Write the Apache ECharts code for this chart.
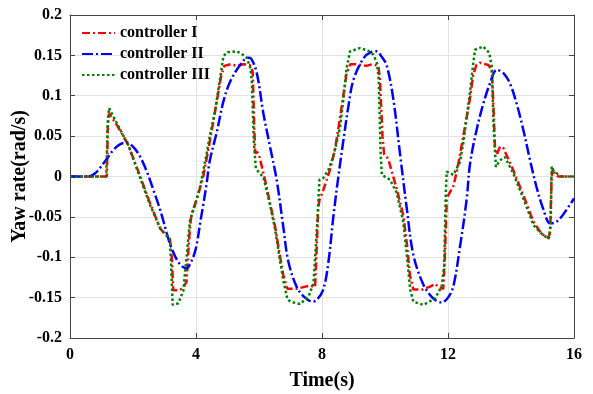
<!DOCTYPE html>
<html>
<head>
<meta charset="utf-8">
<script src="https://cdn.jsdelivr.net/npm/echarts@6/dist/echarts.min.js"></script>
<style>
html,body{margin:0;padding:0;background:#fff;}
#chart{width:593px;height:394px;}
</style>
</head>
<body>
<div id="chart"></div>
<script>
// ---- data ----
const seriesNames = ['controller I', 'controller II', 'controller III'];

const controllerI = [
 [0,0],[1.17,0],[1.2,0.06],[1.24,0.078],[1.3,0.076],[1.5,0.063],[1.85,0.039],[2.2,0.003],
 [2.54,-0.033],[2.86,-0.064],[3.0,-0.071],[3.17,-0.077],[3.23,-0.1],[3.28,-0.141],[3.45,-0.141],
 [3.6,-0.138],[3.7,-0.13],[3.76,-0.091],[3.81,-0.062],[3.86,-0.046],[4.02,-0.029],[4.23,0.0],
 [4.39,0.033],[4.55,0.068],[4.66,0.093],[4.8,0.125],[4.9,0.137],[5.1,0.139],[5.3,0.137],
 [5.5,0.139],[5.71,0.138],[5.8,0.13],[5.85,0.06],[5.88,0.029],[5.95,0.03],[6.0,0.027],
 [6.19,-0.004],[6.35,-0.033],[6.51,-0.062],[6.65,-0.095],[6.77,-0.122],[6.9,-0.139],[7.2,-0.139],
 [7.41,-0.137],[7.62,-0.135],[7.78,-0.137],[7.82,-0.1],[7.88,-0.04],[7.92,-0.029],[8.04,-0.017],
 [8.25,0.008],[8.41,0.033],[8.57,0.072],[8.78,0.128],[8.9,0.139],[9.1,0.139],[9.4,0.137],
 [9.6,0.139],[9.79,0.137],[9.84,0.12],[9.92,0.05],[9.97,0.028],[10.03,0.029],[10.1,0.022],
 [10.37,-0.015],[10.58,-0.048],[10.7,-0.085],[10.79,-0.122],[10.9,-0.14],[11.2,-0.14],
 [11.45,-0.136],[11.59,-0.133],[11.7,-0.137],[11.85,-0.139],[11.9,-0.1],[11.96,-0.03],
 [12.01,-0.023],[12.17,-0.012],[12.3,0.01],[12.49,0.051],[12.7,0.097],[12.8,0.126],[12.9,0.138],
 [13.02,0.141],[13.28,0.138],[13.39,0.132],[13.45,0.08],[13.49,0.037],[13.55,0.027],[13.65,0.037],
 [13.76,0.035],[14.07,0.008],[14.39,-0.023],[14.71,-0.056],[14.97,-0.071],[15.18,-0.076],
 [15.24,-0.07],[15.29,0.0],[15.33,0.01],[15.4,0.003],[15.5,0.0],[16,0]
];

const controllerII = [
 [0,0],[0.58,0],[0.8,0.004],[1.06,0.016],[1.38,0.033],[1.6,0.04],[1.8,0.042],[2.0,0.037],
 [2.22,0.025],[2.45,0.005],[2.65,-0.017],[2.86,-0.041],[3.07,-0.07],[3.17,-0.083],[3.39,-0.103],
 [3.55,-0.111],[3.7,-0.114],[3.85,-0.105],[3.92,-0.099],[4.02,-0.085],[4.13,-0.058],[4.23,-0.035],
 [4.34,-0.008],[4.44,0.02],[4.66,0.055],[4.87,0.093],[5.08,0.117],[5.4,0.138],[5.65,0.147],
 [5.75,0.146],[5.93,0.128],[6.14,0.078],[6.35,0.037],[6.56,-0.004],[6.77,-0.062],[6.93,-0.105],
 [7.2,-0.137],[7.46,-0.15],[7.7,-0.155],[7.83,-0.153],[8.04,-0.14],[8.2,-0.107],[8.36,-0.05],
 [8.52,0.0],[8.68,0.045],[8.85,0.09],[9.0,0.12],[9.31,0.146],[9.55,0.154],[9.73,0.155],
 [9.9,0.148],[10.05,0.138],[10.26,0.097],[10.48,0.027],[10.69,-0.039],[10.9,-0.097],
 [11.22,-0.134],[11.53,-0.151],[11.8,-0.156],[12.0,-0.15],[12.17,-0.136],[12.38,-0.087],
 [12.59,-0.029],[12.7,0.016],[12.91,0.058],[13.12,0.09],[13.33,0.115],[13.55,0.132],[13.76,0.128],
 [13.97,0.115],[14.18,0.09],[14.39,0.058],[14.6,0.021],[14.81,-0.013],[15.03,-0.041],
 [15.24,-0.058],[15.4,-0.057],[15.56,-0.052],[15.87,-0.035],[16,-0.027]
];

const controllerIII = [
 [0,0],[1.15,0],[1.2,0.07],[1.24,0.085],[1.3,0.08],[1.5,0.065],[1.85,0.039],[2.2,0.001],
 [2.54,-0.035],[2.86,-0.064],[3.0,-0.07],[3.17,-0.077],[3.2,-0.1],[3.26,-0.159],[3.44,-0.157],
 [3.6,-0.141],[3.68,-0.108],[3.81,-0.054],[3.92,-0.041],[4.13,-0.013],[4.34,0.029],[4.44,0.05],
 [4.6,0.08],[4.76,0.12],[4.87,0.149],[5.0,0.154],[5.29,0.155],[5.45,0.152],[5.61,0.147],
 [5.72,0.135],[5.77,0.12],[5.84,0.04],[5.9,0.01],[6.0,0.005],[6.14,-0.001],[6.35,-0.035],
 [6.51,-0.065],[6.65,-0.1],[6.77,-0.128],[6.9,-0.152],[7.0,-0.155],[7.3,-0.158],[7.57,-0.149],
 [7.73,-0.132],[7.83,-0.07],[7.92,-0.004],[8.04,-0.002],[8.2,0.008],[8.36,0.025],[8.57,0.06],
 [8.72,0.11],[8.78,0.134],[8.89,0.155],[9.2,0.159],[9.45,0.156],[9.63,0.151],[9.75,0.14],
 [9.8,0.12],[9.86,0.03],[9.9,0.002],[10.16,-0.004],[10.37,-0.02],[10.58,-0.056],[10.7,-0.1],
 [10.8,-0.14],[10.9,-0.155],[11.22,-0.159],[11.59,-0.151],[11.8,-0.136],[11.88,-0.11],
 [11.93,-0.02],[11.96,0.006],[12.17,0.002],[12.38,0.018],[12.49,0.043],[12.6,0.075],[12.7,0.105],
 [12.8,0.14],[12.86,0.157],[13.12,0.161],[13.31,0.153],[13.39,0.136],[13.45,0.06],[13.52,0.012],
 [13.65,0.02],[13.81,0.024],[14.07,0.004],[14.39,-0.027],[14.71,-0.06],[15.0,-0.072],
 [15.2,-0.077],[15.26,-0.06],[15.29,0.012],[15.33,0.008],[15.38,0.01],[15.45,0.004],[15.6,0.0],[16,0]
];

const xTickLabels = ['0', '4', '8', '12', '16'];
const yTickLabels = ['-0.2', '-0.15', '-0.1', '-0.05', '0', '0.05', '0.1', '0.15', '0.2'];

// ---- chart ----
const FONT = '"Liberation Serif", "Times New Roman", serif';
const chart = echarts.init(document.getElementById('chart'), null, {renderer: 'canvas'});

const lineSty = (color, type) => ({color: color, width: 2.5, type: type, cap: 'butt'});

const option = {
  animation: false,
  backgroundColor: '#ffffff',
  grid: {left: 70, right: 19, top: 15, bottom: 56, containLabel: false, outerBoundsMode: 'none'},
  legend: {
    orient: 'vertical', left: 81, top: 25, padding: 0,
    itemWidth: 33, itemHeight: 14, itemGap: 5,
    itemStyle: {opacity: 0},
    textStyle: {fontFamily: FONT, fontWeight: 'bold', fontSize: 16, color: '#000'},
    data: seriesNames
  },
  xAxis: [{
    type: 'value', min: 0, max: 16, interval: 4, position: 'bottom',
    name: 'Time(s)', nameLocation: 'middle', nameGap: 33, nameMoveOverlap: false,
    nameTextStyle: {fontFamily: FONT, fontWeight: 'bold', fontSize: 20, color: '#000'},
    axisLine: {show: true, onZero: false, lineStyle: {color: '#444', width: 1}},
    axisTick: {show: true, inside: true, length: 5, lineStyle: {color: '#444'}},
    axisLabel: {fontFamily: FONT, fontWeight: 'bold', fontSize: 16, color: '#000', margin: 9,
      formatter: v => xTickLabels[Math.round(v / 4)] ?? ''},
    splitLine: {show: true, lineStyle: {color: '#e3e3e3', width: 1}}
  }, {
    type: 'value', min: 0, max: 16, interval: 4, position: 'top',
    axisLine: {show: true, onZero: false, lineStyle: {color: '#444', width: 1}},
    axisTick: {show: true, inside: true, length: 5, lineStyle: {color: '#444'}},
    axisLabel: {show: false}, splitLine: {show: false}
  }],
  yAxis: [{
    type: 'value', min: -0.2, max: 0.2, interval: 0.05, position: 'left',
    name: 'Yaw rate(rad/s)', nameLocation: 'middle', nameGap: 40, nameMoveOverlap: false,
    nameTextStyle: {fontFamily: FONT, fontWeight: 'bold', fontSize: 20, color: '#000'},
    axisLine: {show: true, onZero: false, lineStyle: {color: '#444', width: 1}},
    axisTick: {show: true, inside: true, length: 5, lineStyle: {color: '#444'}},
    axisLabel: {fontFamily: FONT, fontWeight: 'bold', fontSize: 16, color: '#000', margin: 8,
      formatter: v => yTickLabels[Math.round((v + 0.2) / 0.05)] ?? ''},
    splitLine: {show: true, lineStyle: {color: '#e3e3e3', width: 1}}
  }, {
    type: 'value', min: -0.2, max: 0.2, interval: 0.05, position: 'right',
    axisLine: {show: true, onZero: false, lineStyle: {color: '#444', width: 1}},
    axisTick: {show: true, inside: true, length: 5, lineStyle: {color: '#444'}},
    axisLabel: {show: false}, splitLine: {show: false}
  }],
  series: [{
    name: seriesNames[0], type: 'line', data: controllerI, showSymbol: false, symbol: 'none',
    lineStyle: lineSty('#ff0000', [8, 3, 2, 3]), itemStyle: {color: '#ff0000'}, z: 3
  }, {
    name: seriesNames[1], type: 'line', data: controllerII, showSymbol: false, symbol: 'none',
    smooth: 0.35,
    lineStyle: lineSty('#0000ff', [11, 3, 2, 3]), itemStyle: {color: '#0000ff'}, z: 4
  }, {
    name: seriesNames[2], type: 'line', data: controllerIII, showSymbol: false, symbol: 'none',
    lineStyle: lineSty('#008000', [2.5, 2.5]), itemStyle: {color: '#008000'}, z: 5
  }]
};
chart.setOption(option);
</script>
</body>
</html>
